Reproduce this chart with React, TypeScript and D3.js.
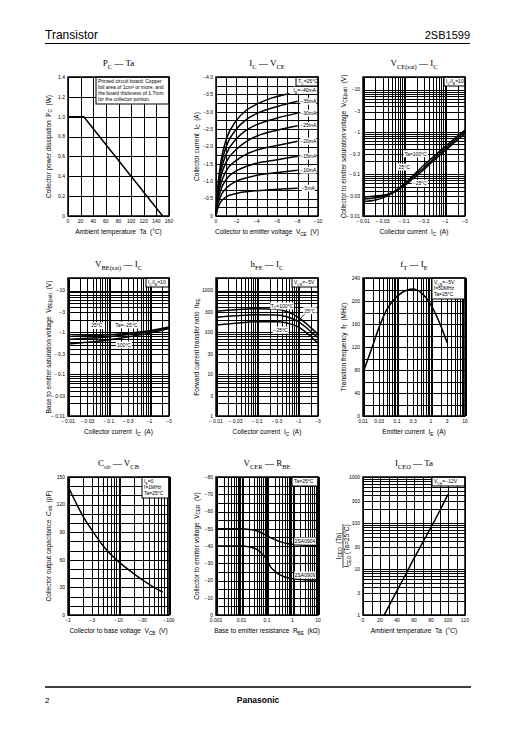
import React from "react";
import * as d3 from "d3";

type Seg = string | { s: string };
const sub = (s: string): Seg => ({ s });

const SANS = "'Liberation Sans', Arial, sans-serif";
const SERIF = "'Liberation Serif', 'Times New Roman', serif";
const NB = "\u00a0";

// ---------- Chart 1 : PC — Ta ----------
const pcTemp = [0, 25, 150];
const pcPower = [1.0, 1.0, 0];
const pcXTicks = [0, 20, 40, 60, 80, 100, 120, 140, 160];
const pcXLabels = ["0", "20", "40", "60", "80", "100", "120", "140", "160"];
const pcYTicks = [0, 0.2, 0.4, 0.6, 0.8, 1.0, 1.2, 1.4];
const pcYLabels = ["0", "0.2", "0.4", "0.6", "0.8", "1.0", "1.2", "1.4"];
const pcNote = [
  "Printed circuit board: Copper",
  "foil area of 1cm² or more, and",
  "the board thickness of 1.7mm",
  "for the collector portion.",
];

// ---------- Chart 2 : IC — VCE ----------
const icVce = [0, 0.1, 0.25, 0.5, 1, 2, 3, 4, 6, 8];
const icVce40 = [0, 0.1, 0.25, 0.5, 1, 2, 3, 4, 5.5, 7.2];
const icIb40 = [0, 0.55, 1.05, 1.6, 2.2, 2.75, 3.05, 3.22, 3.4, 3.52];
const icIb35 = [0, 0.5, 0.95, 1.45, 2.0, 2.5, 2.78, 2.95, 3.15, 3.3];
const icIb30 = [0, 0.45, 0.85, 1.3, 1.78, 2.22, 2.48, 2.63, 2.82, 2.96];
const icIb25 = [0, 0.4, 0.75, 1.15, 1.55, 1.92, 2.15, 2.3, 2.47, 2.6];
const icIb20 = [0, 0.35, 0.65, 0.95, 1.3, 1.6, 1.78, 1.9, 2.03, 2.15];
const icIb15 = [0, 0.3, 0.52, 0.78, 1.05, 1.3, 1.43, 1.52, 1.62, 1.72];
const icIb10 = [0, 0.22, 0.4, 0.6, 0.8, 1.0, 1.1, 1.17, 1.25, 1.32];
const icIb05 = [0, 0.15, 0.28, 0.42, 0.55, 0.65, 0.7, 0.73, 0.77, 0.8];
const icLabelText = ["−35mA", "−30mA", "−25mA", "−20mA", "−15mA", "−10mA", "−5mA"];
const icLabelY = [3.3, 2.96, 2.6, 2.15, 1.72, 1.32, 0.8];
const icXTicks = [0, 2, 4, 6, 8, 10];
const icXLabels = ["0", "−2", "−4", "−6", "−8", "−10"];
const icYTicks = [0, 0.5, 1, 1.5, 2, 2.5, 3, 3.5, 4];
const icYLabels = ["0", "−0.5", "−1.0", "−1.5", "−2.0", "−2.5", "−3.0", "−3.5", "−4.0"];

// ---------- shared log axes ----------
const icLogTicks = [0.01, 0.03, 0.1, 0.3, 1, 3];
const icLogLabels = ["−\u20090.01", "−\u20090.03", "−\u20090.1", "−\u20090.3", "−1", "−3"];
const vLogTicks = [0.01, 0.03, 0.1, 0.3, 1, 3, 10];
const vLogLabels = ["−\u20090.01", "−\u20090.03", "−\u20090.1", "−\u20090.3", "−1", "−3", "−10"];

// ---------- Chart 3 : VCE(sat) — IC ----------
const vceIc = [0.01, 0.02, 0.03, 0.05, 0.1, 0.2, 0.3, 0.5, 1, 2, 3];
const vce100 = [0.022, 0.024, 0.027, 0.034, 0.058, 0.11, 0.16, 0.25, 0.45, 0.8, 1.1];
const vce25 = [0.025, 0.027, 0.029, 0.035, 0.055, 0.1, 0.14, 0.22, 0.4, 0.72, 1.0];
const vceM25 = [0.028, 0.03, 0.031, 0.036, 0.052, 0.09, 0.125, 0.2, 0.36, 0.65, 0.9];

// ---------- Chart 4 : VBE(sat) — IC ----------
const vbeIc = [0.01, 0.03, 0.1, 0.3, 1, 3];
const vbeM25 = [0.8, 0.83, 0.88, 0.96, 1.1, 1.35];
const vbe25 = [0.68, 0.72, 0.79, 0.89, 1.04, 1.3];
const vbe100 = [0.53, 0.58, 0.66, 0.78, 0.96, 1.24];

// ---------- Chart 5 : hFE — IC ----------
const hfeIc = [0.01, 0.03, 0.1, 0.3, 0.5, 1, 2, 3];
const hfe100 = [320, 350, 370, 360, 320, 230, 130, 90];
const hfe25 = [230, 250, 265, 260, 240, 180, 105, 75];
const hfeM25 = [150, 165, 180, 180, 170, 135, 80, 55];
const hfeTicks = [1, 3, 10, 30, 100, 300, 1000];
const hfeLabels = ["1", "3", "10", "30", "100", "300", "1000"];

// ---------- Chart 6 : fT — IE ----------
const ftIe = [0.01, 0.02, 0.03, 0.05, 0.1, 0.2, 0.3, 0.5, 1, 2, 3];
const ftVal = [75, 125, 155, 185, 208, 219, 221, 215, 193, 155, 127];
const ftXTicks = [0.01, 0.03, 0.1, 0.3, 1, 3, 10];
const ftXLabels = ["0.01", "0.03", "0.1", "0.3", "1", "3", "10"];
const ftYTicks = [0, 40, 80, 120, 160, 200, 240];
const ftYLabels = ["0", "40", "80", "120", "160", "200", "240"];

// ---------- Chart 7 : Cob — VCB ----------
const cobV = [1, 1.5, 2, 3, 5, 7, 10, 20, 30, 50, 75];
const cobC = [140, 120, 107, 92, 75, 66, 58, 45, 38, 30, 25];
const cobXTicks = [1, 3, 10, 30, 100];
const cobXLabels = ["−1", "−3", "−10", "−30", "−100"];
const cobYTicks = [0, 30, 60, 90, 120, 150];
const cobYLabels = ["0", "30", "60", "90", "120", "150"];

// ---------- Chart 8 : VCER — RBE ----------
const rbe = [0.001, 0.01, 0.02, 0.04, 0.07, 0.1, 0.13, 0.2, 0.3, 0.5, 1, 3, 10];
const vcerA = [50, 50, 49.6, 48.8, 47.2, 46, 45, 43.8, 42.7, 41.8, 41, 40.5, 40.3];
const vcerB = [40, 40, 39.5, 38, 35, 32, 28.5, 25.5, 23.5, 22, 21, 20.5, 20.3];
const vcerNames = ["2SA0904", "2SA0909"];
const vcerXTicks = [0.001, 0.01, 0.1, 1, 10];
const vcerXLabels = ["0.001", "0.01", "0.1", "1", "10"];
const vcerYTicks = [0, 10, 20, 30, 40, 50, 60, 70, 80];
const vcerYLabels = ["0", "−10", "−20", "−30", "−40", "−50", "−60", "−70", "−80"];

// ---------- Chart 9 : ICEO — Ta ----------
const iceoT = [25, 40, 50, 60, 70, 80, 90, 100];
const iceoR = [1, 3.4, 7.5, 17, 37, 80, 180, 420];
const iceoXTicks = [0, 20, 40, 60, 80, 100, 120];
const iceoXLabels = ["0", "20", "40", "60", "80", "100", "120"];

// ---------- helpers ----------
const logGrid = (lo: number, hi: number) => {
  const out: number[] = [];
  for (let e = Math.floor(Math.log10(lo)); e <= Math.ceil(Math.log10(hi)); e++) {
    for (let k = 1; k <= 9; k++) {
      const v = k * Math.pow(10, e);
      if (v >= lo * 0.999 && v <= hi * 1.001) out.push(v);
    }
  }
  return out;
};
const isDecade = (v: number) => Math.abs(Math.log10(v) - Math.round(Math.log10(v))) < 1e-6;
const segLen = (segs: Seg[]) =>
  segs.reduce((a, s) => a + (typeof s === "string" ? s.length : s.s.length * 0.7), 0);

function Rich({ segs, fs }: { segs: Seg[]; fs: number }) {
  let down = false;
  return (
    <>
      {segs.map((sg, i) => {
        if (typeof sg === "string") {
          const dy = down ? -fs * 0.3 : 0;
          down = false;
          return (
            <tspan key={i} fontSize={fs} dy={dy}>
              {sg}
            </tspan>
          );
        }
        const dy = down ? 0 : fs * 0.3;
        down = true;
        return (
          <tspan key={i} fontSize={fs * 0.72} dy={dy}>
            {sg.s}
          </tspan>
        );
      })}
    </>
  );
}

interface Label {
  segs: Seg[];
  x: number;
  y: number;
}
interface PanelProps {
  box: [number, number, number, number];
  xLog?: boolean;
  yLog?: boolean;
  xDomain: [number, number];
  yDomain: [number, number];
  xTicks: number[];
  xLabels: string[];
  yTicks: number[];
  yLabels: string[];
  xGrid?: number[];
  yGrid?: number[];
  title: Seg[];
  xTitle: Seg[];
  yTitle?: Seg[];
  yTitleNode?: React.ReactNode;
  series: { x: number[]; y: number[]; straight?: boolean }[];
  labels?: Label[];
  legend?: { lines: Seg[][]; w: number };
  leaders?: { x: number[]; y: number[] }[];
}

const TF = 5;

function Panel(p: PanelProps) {
  const [x0, y0, x1, y1] = p.box;
  const xs: any = p.xLog
    ? d3.scaleLog().domain(p.xDomain).range([x0, x1])
    : d3.scaleLinear().domain(p.xDomain).range([x0, x1]);
  const ys: any = p.yLog
    ? d3.scaleLog().domain(p.yDomain).range([y1, y0])
    : d3.scaleLinear().domain(p.yDomain).range([y1, y0]);
  const xGrid = p.xGrid ?? logGrid(p.xDomain[0], p.xDomain[1]);
  const yGrid = p.yGrid ?? logGrid(p.yDomain[0], p.yDomain[1]);
  const path = (xsArr: number[], ysArr: number[], straight?: boolean) =>
    d3
      .line<[number, number]>()
      .x((d) => xs(d[0]))
      .y((d) => ys(d[1]))
      .curve(straight ? d3.curveLinear : d3.curveMonotoneX)(
      xsArr.map((v, i) => [v, ysArr[i]] as [number, number])
    ) || "";
  const cx = (x0 + x1) / 2;
  const cy = (y0 + y1) / 2;
  return (
    <g>
      <rect x={x0} y={y0} width={x1 - x0} height={y1 - y0} fill="#fff" />
      {xGrid.map((v, i) => (
        <line
          key={"xg" + i}
          x1={Math.round(xs(v)) + 0.5}
          x2={Math.round(xs(v)) + 0.5}
          y1={y0}
          y2={y1}
          stroke="#000"
          strokeWidth={p.xLog && isDecade(v) ? 2 : 1}
          shapeRendering="crispEdges"
        />
      ))}
      {yGrid.map((v, i) => (
        <line
          key={"yg" + i}
          y1={Math.round(ys(v)) + 0.5}
          y2={Math.round(ys(v)) + 0.5}
          x1={x0}
          x2={x1}
          stroke="#000"
          strokeWidth={p.yLog && isDecade(v) ? 1.5 : 1}
          shapeRendering="crispEdges"
        />
      ))}
      {p.series.map((s, i) => (
        <path key={"s" + i} d={path(s.x, s.y, s.straight)} fill="none" stroke="#000" strokeWidth={1.5} />
      ))}
      {(p.leaders || []).map((s, i) => (
        <path key={"l" + i} d={path(s.x, s.y, true)} fill="none" stroke="#000" strokeWidth={0.8} />
      ))}
      {(p.labels || []).map((l, i) => {
        const w = segLen(l.segs) * TF * 0.56 + 2;
        const px = xs(l.x);
        const py = ys(l.y);
        return (
          <g key={"lb" + i}>
            <rect x={px - w / 2} y={py - 3.5} width={w} height={7} fill="#fff" />
            <text x={px} y={py + 1.8} textAnchor="middle" fontFamily={SANS} fontSize={TF}>
              <Rich segs={l.segs} fs={TF} />
            </text>
          </g>
        );
      })}
      {p.legend && (
        <g>
          <rect
            x={x1 - p.legend.w}
            y={y0}
            width={p.legend.w}
            height={p.legend.lines.length * 6 + 3}
            fill="#fff"
            stroke="#000"
            strokeWidth={1}
          />
          {p.legend.lines.map((ln, i) => (
            <text key={i} x={x1 - p.legend!.w + 2} y={y0 + 6 + i * 6} fontFamily={SANS} fontSize={TF}>
              <Rich segs={ln} fs={TF} />
            </text>
          ))}
        </g>
      )}
      <rect x={x0} y={y0} width={x1 - x0} height={y1 - y0} fill="none" stroke="#000" strokeWidth={1.5} />
      {p.xTicks.map((v, i) => (
        <text key={"xt" + i} x={xs(v)} y={y1 + 7} textAnchor="middle" fontFamily={SANS} fontSize={TF}>
          {p.xLabels[i]}
        </text>
      ))}
      {p.yTicks.map((v, i) => (
        <text key={"yt" + i} x={x0 - 3} y={ys(v) + 1.8} textAnchor="end" fontFamily={SANS} fontSize={TF}>
          {p.yLabels[i]}
        </text>
      ))}
      <text x={cx} y={y0 - 11} textAnchor="middle" fontFamily={SERIF} fontSize={9}>
        <Rich segs={p.title} fs={9} />
      </text>
      <text x={cx} y={y1 + 18} textAnchor="middle" fontFamily={SANS} fontSize={6.5} style={{ whiteSpace: "pre" }}>
        <Rich segs={p.xTitle} fs={6.5} />
      </text>
      {p.yTitle && (
        <text
          transform={`translate(${x0 - 17.5},${cy}) rotate(-90)`}
          textAnchor="middle"
          fontFamily={SANS}
          fontSize={6.5}
          style={{ whiteSpace: "pre" }}
        >
          <Rich segs={p.yTitle} fs={6.5} />
        </text>
      )}
      {p.yTitleNode}
    </g>
  );
}

const COL1: [number, number] = [68, 169];
const COL2: [number, number] = [216, 318];
const COL3: [number, number] = [363, 465];
const ROW1: [number, number] = [77, 216];
const ROW2: [number, number] = [278, 416];
const ROW3: [number, number] = [477, 615];
const bx = (c: [number, number], r: [number, number]): [number, number, number, number] => [c[0], r[0], c[1], r[1]];

export default function App() {
  const s = NB + NB;
  const r3 = bx(COL3, ROW3);
  const iceoCy = (r3[1] + r3[3]) / 2;
  return (
    <div style={{ position: "absolute", left: 0, top: 0 }}>
      <svg width={516} height={729} viewBox="0 0 516 729" style={{ display: "block", background: "#fff" }}>
        <rect width={516} height={729} fill="#fff" />
        {/* header */}
        <text x={45} y={39} fontFamily={SANS} fontSize={12}>
          Transistor
        </text>
        <text x={470} y={39} textAnchor="end" fontFamily={SANS} fontSize={11}>
          2SB1599
        </text>
        <line x1={45} x2={470} y1={43.5} y2={43.5} stroke="#000" strokeWidth={1} />
        {/* footer */}
        <line x1={45} x2={471} y1={687} y2={687} stroke="#000" strokeWidth={1.6} />
        <text x={45} y={703} fontFamily={SANS} fontSize={8}>
          2
        </text>
        <text x={258} y={703} textAnchor="middle" fontFamily={SANS} fontSize={8.5} fontWeight="bold">
          Panasonic
        </text>

        {/* 1: PC — Ta */}
        <Panel
          box={bx(COL1, ROW1)}
          xDomain={[0, 160]}
          yDomain={[0, 1.4]}
          xTicks={pcXTicks}
          xLabels={pcXLabels}
          yTicks={pcYTicks}
          yLabels={pcYLabels}
          xGrid={pcXTicks}
          yGrid={pcYTicks}
          title={["P", sub("C"), " — Ta"]}
          xTitle={["Ambient temperature" + s + "Ta" + s + "(°C)"]}
          yTitle={["Collector power dissipation" + s + "P", sub("C"), s + "(W)"]}
          series={[{ x: pcTemp, y: pcPower, straight: true }]}
          legend={{ lines: pcNote.map((t) => [t]), w: 73 }}
        />

        {/* 2: IC — VCE */}
        <Panel
          box={bx(COL2, ROW1)}
          xDomain={[0, 10]}
          yDomain={[0, 4]}
          xTicks={icXTicks}
          xLabels={icXLabels}
          yTicks={icYTicks}
          yLabels={icYLabels}
          xGrid={d3.range(0, 10.01, 1)}
          yGrid={d3.range(0, 4.01, 0.25)}
          title={["I", sub("C"), " — V", sub("CE")]}
          xTitle={["Collector to emitter voltage" + s + "V", sub("CE"), s + "(V)"]}
          yTitle={["Collector current" + s + "I", sub("C"), s + "(A)"]}
          series={[
            { x: icVce40, y: icIb40 },
            { x: icVce, y: icIb35 },
            { x: icVce, y: icIb30 },
            { x: icVce, y: icIb25 },
            { x: icVce, y: icIb20 },
            { x: icVce, y: icIb15 },
            { x: icVce, y: icIb10 },
            { x: icVce, y: icIb05 },
          ]}
          labels={[
            { segs: ["I", sub("B"), "=−40mA"], x: 8.7, y: 3.62 },
            ...icLabelText.map((t, i) => ({ segs: [t] as Seg[], x: 9.05, y: icLabelY[i] })),
          ]}
          legend={{ lines: [["T", sub("C"), "=25°C"]], w: 22 }}
        />

        {/* 3: VCE(sat) — IC */}
        <Panel
          box={bx(COL3, ROW1)}
          xLog
          yLog
          xDomain={[0.01, 3]}
          yDomain={[0.01, 20]}
          xTicks={icLogTicks}
          xLabels={icLogLabels}
          yTicks={vLogTicks}
          yLabels={vLogLabels}
          title={["V", sub("CE(sat)"), " — I", sub("C")]}
          xTitle={["Collector current" + s + "I", sub("C"), s + "(A)"]}
          yTitle={["Collector to emitter saturation voltage" + s + "V", sub("CE(sat)"), s + "(V)"]}
          series={[
            { x: vceIc, y: vce100 },
            { x: vceIc, y: vce25 },
            { x: vceIc, y: vceM25 },
          ]}
          labels={[
            { segs: ["Ta=100°C"], x: 0.19, y: 0.3 },
            { segs: ["25°C"], x: 0.1, y: 0.146 },
            { segs: ["−25°C"], x: 0.24, y: 0.06 },
          ]}
          legend={{ lines: [["I", sub("C"), "/I", sub("B"), "=10"]], w: 21 }}
        />

        {/* 4: VBE(sat) — IC */}
        <Panel
          box={bx(COL1, ROW2)}
          xLog
          yLog
          xDomain={[0.01, 3]}
          yDomain={[0.01, 20]}
          xTicks={icLogTicks}
          xLabels={icLogLabels}
          yTicks={vLogTicks}
          yLabels={vLogLabels}
          title={["V", sub("BE(sat)"), " — I", sub("C")]}
          xTitle={["Collector current" + s + "I", sub("C"), s + "(A)"]}
          yTitle={["Base to emitter saturation voltage" + s + "V", sub("BE(sat)"), s + "(V)"]}
          series={[
            { x: vbeIc, y: vbeM25 },
            { x: vbeIc, y: vbe25 },
            { x: vbeIc, y: vbe100 },
          ]}
          labels={[
            { segs: ["25°C"], x: 0.051, y: 1.45 },
            { segs: ["Ta=−25°C"], x: 0.27, y: 1.5 },
            { segs: ["100°C"], x: 0.235, y: 0.5 },
          ]}
          legend={{ lines: [["I", sub("C"), "/I", sub("B"), "=10"]], w: 23 }}
        />

        {/* 5: hFE — IC */}
        <Panel
          box={bx(COL2, ROW2)}
          xLog
          yLog
          xDomain={[0.01, 3]}
          yDomain={[1, 2000]}
          xTicks={icLogTicks}
          xLabels={icLogLabels}
          yTicks={hfeTicks}
          yLabels={hfeLabels}
          title={["h", sub("FE"), " — I", sub("C")]}
          xTitle={["Collector current" + s + "I", sub("C"), s + "(A)"]}
          yTitle={["Forward current transfer ratio" + s + "h", sub("FE")]}
          series={[
            { x: hfeIc, y: hfe100 },
            { x: hfeIc, y: hfe25 },
            { x: hfeIc, y: hfeM25 },
          ]}
          leaders={[{ x: [0.98, 1.5], y: [185, 290] }]}
          labels={[
            { segs: ["T", sub("C"), "=100°C"], x: 0.4, y: 430 },
            { segs: ["25°C"], x: 1.9, y: 330 },
            { segs: ["−25°C"], x: 0.37, y: 114 },
          ]}
          legend={{ lines: [["V", sub("CE"), "=−5V"]], w: 26 }}
        />

        {/* 6: fT — IE */}
        <Panel
          box={bx(COL3, ROW2)}
          xLog
          xDomain={[0.01, 10]}
          yDomain={[0, 240]}
          xTicks={ftXTicks}
          xLabels={ftXLabels}
          yTicks={ftYTicks}
          yLabels={ftYLabels}
          yGrid={d3.range(0, 240.1, 20)}
          title={["f", sub("T"), " — I", sub("E")]}
          xTitle={["Emitter current" + s + "I", sub("E"), s + "(A)"]}
          yTitle={["Transition frequency" + s + "f", sub("T"), s + "(MHz)"]}
          series={[{ x: ftIe, y: ftVal }]}
          legend={{
            lines: [["V", sub("CB"), "=−5V"], ["f=50MHz"], ["Ta=25°C"]],
            w: 33,
          }}
        />

        {/* 7: Cob — VCB */}
        <Panel
          box={bx(COL1, ROW3)}
          xLog
          xDomain={[1, 100]}
          yDomain={[0, 150]}
          xTicks={cobXTicks}
          xLabels={cobXLabels}
          yTicks={cobYTicks}
          yLabels={cobYLabels}
          yGrid={d3.range(0, 150.1, 10)}
          title={["C", sub("ob"), " — V", sub("CB")]}
          xTitle={["Collector to base voltage" + s + "V", sub("CB"), s + "(V)"]}
          yTitle={["Collector output capacitance" + s + "C", sub("ob"), s + "(pF)"]}
          series={[{ x: cobV, y: cobC }]}
          legend={{
            lines: [["I", sub("E"), "=0"], ["f=1MHz"], ["Ta=25°C"]],
            w: 27,
          }}
        />

        {/* 8: VCER — RBE */}
        <Panel
          box={bx(COL2, ROW3)}
          xLog
          xDomain={[0.001, 10]}
          yDomain={[0, 80]}
          xTicks={vcerXTicks}
          xLabels={vcerXLabels}
          yTicks={vcerYTicks}
          yLabels={vcerYLabels}
          yGrid={d3.range(0, 80.1, 5)}
          title={["V", sub("CER"), " — R", sub("BE")]}
          xTitle={["Base to emitter resistance" + s + "R", sub("BE"), s + "(kΩ)"]}
          yTitle={["Collector to emitter voltage" + s + "V", sub("CER"), s + "(V)"]}
          series={[
            { x: rbe, y: vcerA },
            { x: rbe, y: vcerB },
          ]}
          labels={[
            { segs: [vcerNames[0]], x: 3.1, y: 42.9 },
            { segs: [vcerNames[1]], x: 3.1, y: 23.2 },
          ]}
          legend={{ lines: [["Ta=25°C"]], w: 26 }}
        />

        {/* 9: ICEO — Ta */}
        <Panel
          box={r3}
          yLog
          xDomain={[0, 120]}
          yDomain={[1, 1000]}
          xTicks={iceoXTicks}
          xLabels={iceoXLabels}
          yTicks={hfeTicks}
          yLabels={hfeLabels}
          xGrid={d3.range(0, 120.1, 10)}
          title={["I", sub("CEO"), " — Ta"]}
          xTitle={["Ambient temperature" + s + "Ta" + s + "(°C)"]}
          series={[{ x: iceoT, y: iceoR }]}
          legend={{ lines: [["V", sub("CE"), "=−12V"]], w: 33 }}
          yTitleNode={
            <g transform={`translate(${COL3[0] - 18},${iceoCy}) rotate(-90)`}>
              <text x={0} y={-4.5} textAnchor="middle" fontFamily={SANS} fontSize={6.5} style={{ whiteSpace: "pre" }}>
                <Rich segs={["I", sub("CEO"), s + "(Ta)"]} fs={6.5} />
              </text>
              <line x1={-22} x2={22} y1={-2} y2={-2} stroke="#000" strokeWidth={0.7} />
              <text x={0} y={4} textAnchor="middle" fontFamily={SANS} fontSize={6.5} style={{ whiteSpace: "pre" }}>
                <Rich segs={["I", sub("CEO"), " (Ta=25°C)"]} fs={6.5} />
              </text>
            </g>
          }
        />
      </svg>
    </div>
  );
}
